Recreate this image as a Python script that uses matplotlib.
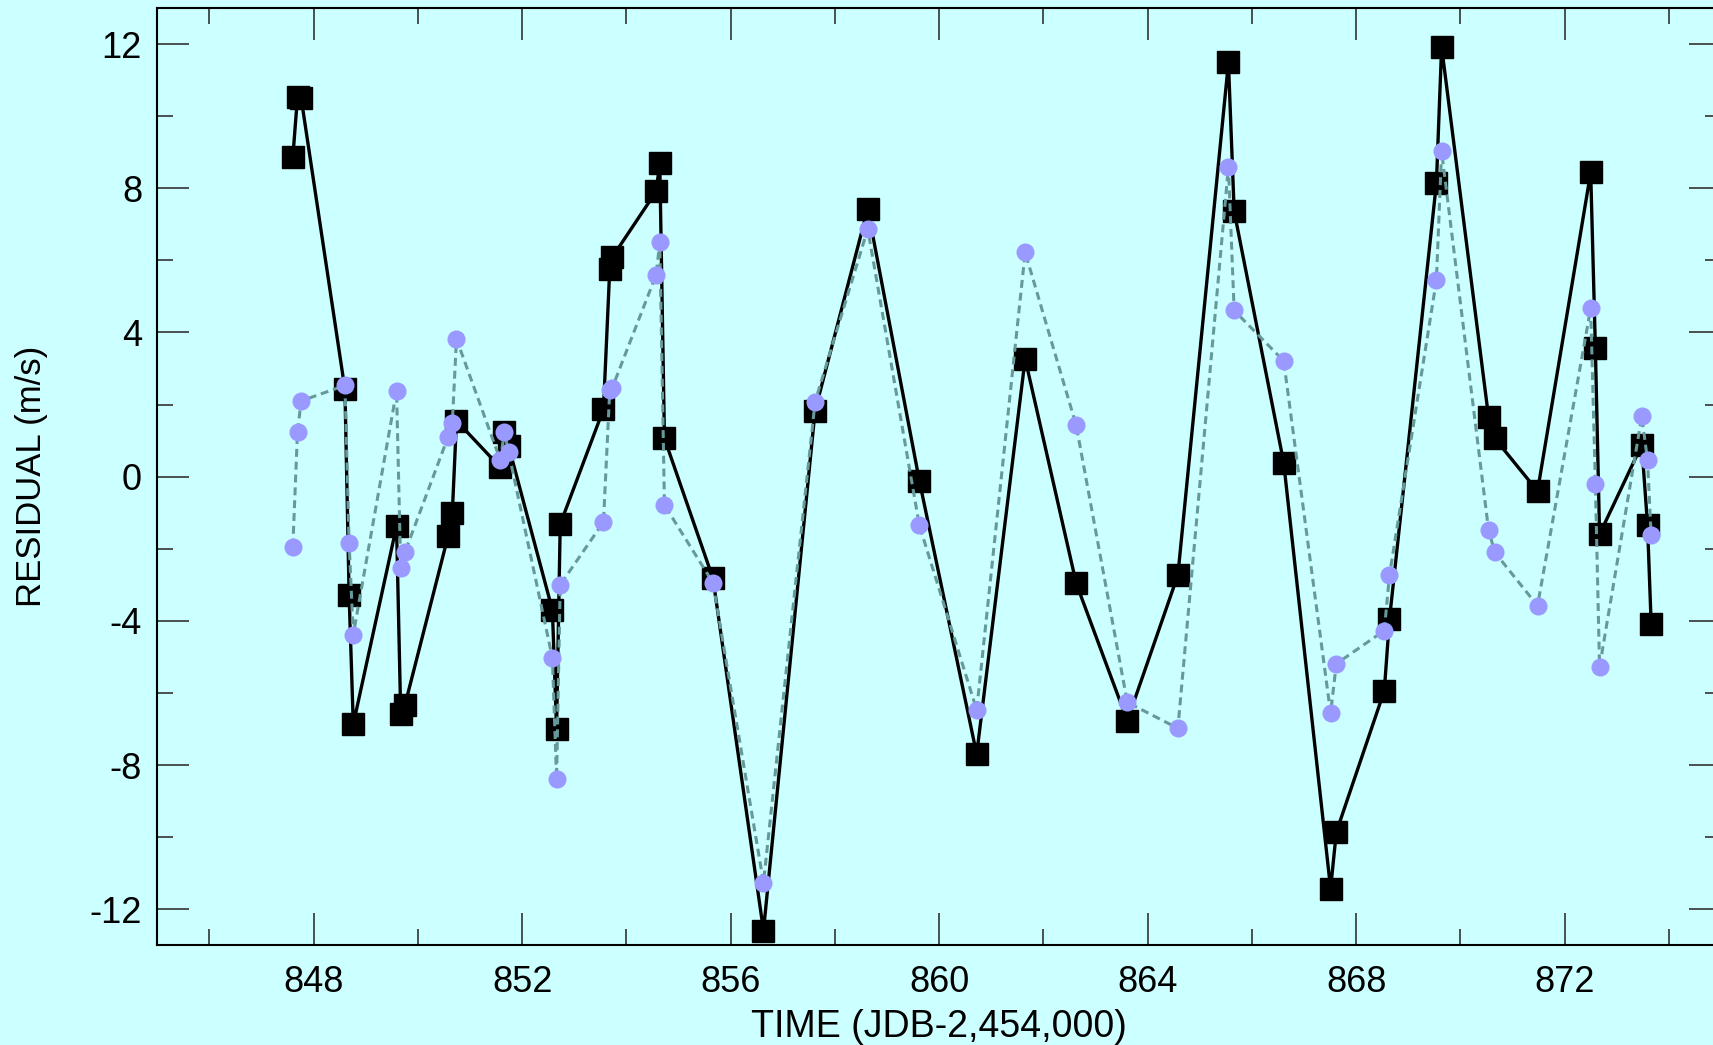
# -*- coding: utf-8 -*-
import matplotlib
matplotlib.use('Agg')
import matplotlib.pyplot as plt
from matplotlib.ticker import MultipleLocator

plt.rcParams['font.family'] = ['Liberation Sans', 'DejaVu Sans']
plt.rcParams['axes.unicode_minus'] = False

# observation times (JDB - 2,454,000)
time = [847.60, 847.69, 847.76, 848.60, 848.68, 848.76, 849.59, 849.67, 849.75,
        850.58, 850.66, 850.74, 851.58, 851.66, 851.74, 852.58, 852.66, 852.73,
        853.56, 853.68, 853.73, 854.57, 854.64, 854.73, 855.66, 856.63, 857.62,
        858.63, 859.62, 860.72, 861.65, 862.63, 863.61, 864.58, 865.55, 865.66,
        866.61, 867.51, 867.62, 868.54, 868.64, 869.54, 869.64, 870.54, 870.66,
        871.48, 872.50, 872.59, 872.67, 873.48, 873.59, 873.66]

# residuals of first fit (black squares)
resid_a = [8.86, 10.54, 10.50, 2.42, -3.28, -6.87, -1.37, -6.59, -6.34,
           -1.64, -1.00, 1.55, 0.26, 1.25, 0.85, -3.70, -6.99, -1.32,
           1.87, 5.75, 6.09, 7.91, 8.70, 1.06, -2.82, -12.59, 1.83,
           7.43, -0.11, -7.70, 3.27, -2.96, -6.77, -2.73, 11.49, 7.36,
           0.39, -11.43, -9.86, -5.94, -3.95, 8.14, 11.92, 1.66, 1.06,
           -0.40, 8.44, 3.56, -1.60, 0.88, -1.33, -4.08]

# residuals of second fit (purple circles)
resid_b = [-1.94, 1.25, 2.10, 2.53, -1.85, -4.38, 2.38, -2.54, -2.10,
           1.11, 1.50, 3.82, 0.46, 1.23, 0.68, -5.03, -8.39, -3.00,
           -1.26, 2.39, 2.47, 5.60, 6.50, -0.79, -2.94, -11.26, 2.08,
           6.87, -1.35, -6.47, 6.22, 1.42, -6.26, -6.98, 8.60, 4.61,
           3.21, -6.56, -5.19, -4.27, -2.73, 5.45, 9.02, -1.47, -2.10,
           -3.58, 4.67, -0.21, -5.28, 1.67, 0.46, -1.63]

x_ticks = [848, 852, 856, 860, 864, 868, 872]
y_ticks = [-12, -8, -4, 0, 4, 8, 12]

BG = '#CCFFFF'


def drawResiduals():
    W, H = 1713, 1045
    fig = plt.figure(figsize=(W / 100, H / 100), dpi=100, facecolor=BG)
    # axes runs slightly past the right edge of the picture, like the original
    ax = fig.add_axes([157.3 / W, (H - 945.3) / H, (1721 - 157.3) / W, (945.3 - 8) / H])
    ax.set_facecolor(BG)

    ax.plot(time, resid_a, color='black', linewidth=2.4, marker='s',
            markersize=16, markerfacecolor='black', markeredgecolor='black', zorder=2)
    ax.plot(time, resid_b, color='#669999', linewidth=2.2, linestyle=(0, (2.6, 1.6)),
            marker='o', markersize=13, markerfacecolor='#9999FF',
            markeredgecolor='none', zorder=3)

    ax.set_xlim(845, 875)
    ax.set_ylim(-13, 13)
    ax.set_xticks(x_ticks)
    ax.set_yticks(y_ticks)
    ax.xaxis.set_minor_locator(MultipleLocator(2))
    ax.yaxis.set_minor_locator(MultipleLocator(2))
    ax.tick_params(which='both', direction='in', top=True, right=True,
                   color='#333333', width=1.2, labelsize=26)
    ax.tick_params(which='major', length=23)
    ax.tick_params(which='minor', length=11.5)
    ax.tick_params(axis='x', pad=14)
    ax.tick_params(axis='y', pad=11)
    for s in ax.spines.values():
        s.set_linewidth(1.5)

    ax.set_xlabel('TIME (JDB-2,454,000)', fontsize=27, labelpad=7)
    ax.set_ylabel('RESIDUAL (m/s)', fontsize=25, labelpad=30)

    fig.savefig('out.png', dpi=100, facecolor=BG)


if __name__ == '__main__':
    drawResiduals()
